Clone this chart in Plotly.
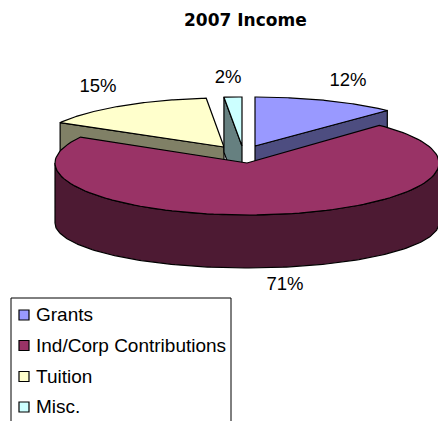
import numpy as np
import plotly.graph_objects as go

title = "2007 Income"
categories = ["Grants", "Ind/Corp Contributions", "Tuition", "Misc."]
values = [12.1, 71.2, 15.2, 1.5]

top_colors = ["#9999FF", "#993366", "#FFFFCC", "#CCFFFF"]
side_colors = ["#4D4D80", "#4D1A33", "#808066", "#668080"]

# pie geometry in page pixels
rx_by_slice = [192, 192, 189, 192]
DEPTH = 55
FRONT_DROP = 60
FRONT_RY = 45
centers = [(255, 146), (247, 163), (224, 147), (242, 146)]
ry_by_slice = [49, 52, 49, 49]
label_pos = [(348, 81), (285, 285.5), (98, 87), (228, 78)]

total = sum(values)
edges = np.cumsum([0] + values) / total * 2 * np.pi


def pts(t, c, rx, ry, dy=0):
    return c[0] + rx * np.sin(t), c[1] - ry * np.cos(t) + dy


fig = go.Figure()


def poly(x, y, color):
    fig.add_trace(go.Scatter(
        x=list(x) + [x[0]], y=list(y) + [y[0]], mode="lines", fill="toself",
        fillcolor=color, line=dict(color="#000000", width=1.2),
        hoverinfo="skip", showlegend=False))


# back slices first, the big slice in front
for i in [0, 2, 3, 1]:
    a0, a1 = edges[i], edges[i + 1]
    c, rx, ry = centers[i], rx_by_slice[i], ry_by_slice[i]
    arc = np.linspace(a0, a1, 120)
    ax, ay = pts(arc, c, rx, ry)
    if i == 1:
        front = np.linspace(max(a0, np.pi / 2), min(a1, 3 * np.pi / 2), 160)
        fx, fy = pts(front, c, rx, ry)
        bx, by = pts(front[::-1], c, rx, FRONT_RY, FRONT_DROP)
        poly(np.r_[fx, bx], np.r_[fy, by], side_colors[i])
    else:
        # the cut face that looks towards the viewer
        a = a1 if i == 0 else a0
        ex, ey = pts(a, c, rx, ry)
        poly([c[0], ex, ex, c[0]], [c[1], ey, ey + DEPTH, c[1] + DEPTH], side_colors[i])
    poly(np.r_[c[0], ax], np.r_[c[1], ay], top_colors[i])

# data labels
fig.add_trace(go.Scatter(
    x=[p[0] for p in label_pos], y=[p[1] for p in label_pos],
    mode="text", text=[f"{round(v)}%" for v in values],
    textfont=dict(family="Liberation Sans", size=18.5, color="#000000"),
    textposition="middle center", hoverinfo="skip", showlegend=False))

# legend swatches and entries
leg_y = [315, 345.5, 376.5, 407]
fig.add_trace(go.Scatter(
    x=[24] * 4, y=leg_y, mode="markers",
    marker=dict(symbol="square", size=10, color=top_colors,
                line=dict(color="#000000", width=1.2)),
    hoverinfo="skip", showlegend=False))
fig.add_trace(go.Scatter(
    x=[36] * 4, y=[v + 1.5 for v in leg_y], mode="text", text=categories,
    textposition="middle right",
    textfont=dict(family="Liberation Sans", size=19, color="#000000"),
    hoverinfo="skip", showlegend=False))

fig.update_layout(
    width=438, height=421, autosize=False,
    margin=dict(l=0, r=0, t=0, b=0),
    paper_bgcolor="white", plot_bgcolor="white",
    xaxis=dict(range=[0, 438], visible=False, fixedrange=True),
    yaxis=dict(range=[421, 0], visible=False, fixedrange=True),
    shapes=[dict(type="rect", xref="x", yref="y", x0=11, x1=231, y0=298, y1=440,
                 line=dict(color="#000000", width=1), fillcolor="rgba(0,0,0,0)", layer="below")],
    annotations=[dict(x=245.5, y=20, xref="x", yref="y", text=f"<b>{title}</b>", showarrow=False,
                      font=dict(family="DejaVu Sans", size=17, color="#000000"))],
)
fig.write_html("out.html", config={"displayModeBar": False, "responsive": False},
               post_script="document.body.style.margin='0';document.documentElement.style.overflow='hidden';")
